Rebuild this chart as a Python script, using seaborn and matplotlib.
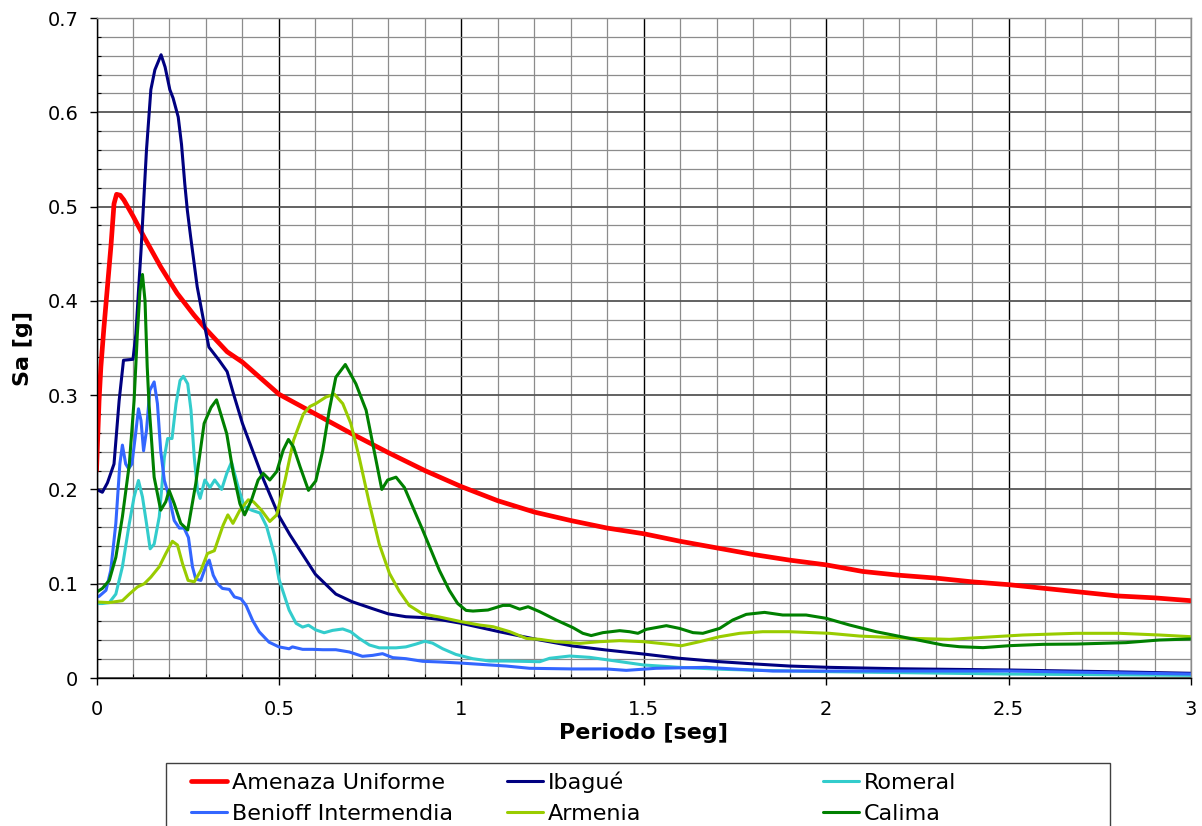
import matplotlib
matplotlib.use("Agg")
import matplotlib.pyplot as plt
import numpy as np
import pandas as pd
import seaborn as sns
from matplotlib.ticker import MultipleLocator, FuncFormatter
from matplotlib.patches import Rectangle
from matplotlib.lines import Line2D

# ---------------------------------------------------------------- data
# Periodo [seg] and spectral acceleration Sa [g] for each spectrum
periodo_amenaza = [0, 0.007, 0.012, 0.02, 0.03,
                   0.04, 0.048, 0.055, 0.065, 0.075,
                   0.1, 0.13, 0.176, 0.221, 0.267,
                   0.3, 0.358, 0.4, 0.5, 0.6,
                   0.7, 0.8, 0.9, 1.0, 1.1,
                   1.2, 1.3, 1.4, 1.5, 1.6,
                   1.7, 1.8, 1.9, 2.0, 2.1,
                   2.2, 2.3, 2.4, 2.5, 2.6,
                   2.7, 2.8, 2.9, 3.0]
sa_amenaza = [0.22, 0.294, 0.33, 0.37, 0.415,
              0.46, 0.503, 0.513, 0.512, 0.507,
              0.49, 0.468, 0.436, 0.408, 0.385,
              0.37, 0.346, 0.335, 0.301, 0.28,
              0.259, 0.239, 0.22, 0.203, 0.188,
              0.176, 0.167, 0.159, 0.153, 0.145,
              0.138, 0.131, 0.125, 0.12, 0.113,
              0.109, 0.106, 0.102, 0.099, 0.095,
              0.091, 0.087, 0.085, 0.082]

periodo_ibague = [0, 0.016, 0.03, 0.048, 0.062,
                  0.074, 0.1, 0.108, 0.115, 0.122,
                  0.128, 0.137, 0.149, 0.16, 0.177,
                  0.188, 0.201, 0.21, 0.224, 0.233,
                  0.242, 0.249, 0.258, 0.276, 0.295,
                  0.308, 0.336, 0.358, 0.375, 0.4,
                  0.428, 0.455, 0.5, 0.53, 0.56,
                  0.6, 0.656, 0.7, 0.757, 0.8,
                  0.848, 0.9, 0.941, 1.0, 1.105,
                  1.215, 1.306, 1.397, 1.5, 1.598,
                  1.708, 1.808, 1.899, 2.009, 2.2,
                  2.5, 2.8, 3.0]
sa_ibague = [0.2, 0.197, 0.207, 0.227, 0.294,
             0.337, 0.338, 0.365, 0.41, 0.453,
             0.496, 0.56, 0.624, 0.645, 0.661,
             0.648, 0.624, 0.615, 0.595, 0.566,
             0.524, 0.496, 0.468, 0.415, 0.376,
             0.351, 0.337, 0.325, 0.302, 0.27,
             0.241, 0.213, 0.172, 0.152, 0.134,
             0.11, 0.089, 0.081, 0.0735, 0.068,
             0.065, 0.064, 0.062, 0.058, 0.049,
             0.0403, 0.0339, 0.0297, 0.0254, 0.0209,
             0.0173, 0.0148, 0.0127, 0.0113, 0.0098,
             0.0085, 0.0065, 0.005]

periodo_romeral = [0, 0.016, 0.035, 0.053, 0.071,
                   0.09, 0.103, 0.115, 0.126, 0.137,
                   0.147, 0.158, 0.172, 0.186, 0.195,
                   0.207, 0.218, 0.229, 0.238, 0.25,
                   0.259, 0.268, 0.277, 0.284, 0.297,
                   0.311, 0.324, 0.343, 0.357, 0.37,
                   0.39, 0.405, 0.425, 0.448, 0.466,
                   0.489, 0.5, 0.528, 0.547, 0.565,
                   0.581, 0.601, 0.624, 0.647, 0.675,
                   0.697, 0.72, 0.748, 0.775, 0.821,
                   0.848, 0.876, 0.9, 0.921, 0.949,
                   0.985, 1.031, 1.077, 1.123, 1.215,
                   1.242, 1.297, 1.352, 1.416, 1.5,
                   1.598, 1.717, 1.854, 2.009, 2.5,
                   3.0]
sa_romeral = [0.079, 0.079, 0.08, 0.089, 0.118,
              0.164, 0.192, 0.2095, 0.192, 0.164,
              0.137, 0.142, 0.171, 0.234, 0.254,
              0.254, 0.291, 0.3155, 0.32, 0.312,
              0.284, 0.234, 0.199, 0.1905, 0.21,
              0.202, 0.21, 0.2, 0.217, 0.229,
              0.2, 0.182, 0.178, 0.175, 0.161,
              0.129, 0.105, 0.072, 0.058, 0.054,
              0.056, 0.051, 0.048, 0.0505, 0.052,
              0.049, 0.042, 0.035, 0.032, 0.032,
              0.033, 0.036, 0.039, 0.037, 0.031,
              0.025, 0.0205, 0.018, 0.018, 0.0173,
              0.0209, 0.0233, 0.0219, 0.0184, 0.0138,
              0.0113, 0.0092, 0.0078, 0.0067, 0.0042,
              0.0028]

periodo_benioff = [0, 0.007, 0.026, 0.039, 0.053,
                   0.064, 0.071, 0.08, 0.088, 0.097,
                   0.106, 0.115, 0.122, 0.129, 0.137,
                   0.146, 0.158, 0.167, 0.176, 0.186,
                   0.199, 0.213, 0.227, 0.24, 0.252,
                   0.263, 0.272, 0.286, 0.3, 0.309,
                   0.32, 0.332, 0.345, 0.364, 0.378,
                   0.396, 0.41, 0.428, 0.446, 0.473,
                   0.5, 0.528, 0.537, 0.565, 0.592,
                   0.62, 0.656, 0.693, 0.729, 0.757,
                   0.784, 0.812, 0.848, 0.894, 0.941,
                   1.0, 1.123, 1.187, 1.306, 1.397,
                   1.452, 1.534, 1.671, 1.763, 1.854,
                   2.009, 2.5, 3.0]
sa_benioff = [0.086, 0.0866, 0.093, 0.114, 0.164,
              0.227, 0.247, 0.227, 0.222, 0.227,
              0.255, 0.2855, 0.273, 0.241, 0.2625,
              0.305, 0.314, 0.291, 0.241, 0.2095,
              0.192, 0.167, 0.159, 0.159, 0.149,
              0.118, 0.105, 0.1035, 0.119, 0.125,
              0.109, 0.1, 0.095, 0.094, 0.086,
              0.084, 0.077, 0.061, 0.049, 0.038,
              0.033, 0.031, 0.033, 0.0304, 0.0304,
              0.03, 0.03, 0.0276, 0.023, 0.024,
              0.0258, 0.0216, 0.0205, 0.0177, 0.017,
              0.0158, 0.0127, 0.0103, 0.0096, 0.0096,
              0.0081, 0.0103, 0.0113, 0.0092, 0.0074,
              0.0074, 0.0074, 0.0042]

periodo_armenia = [0, 0.035, 0.071, 0.09, 0.112,
                   0.131, 0.149, 0.172, 0.19, 0.208,
                   0.222, 0.236, 0.251, 0.268, 0.286,
                   0.304, 0.323, 0.347, 0.36, 0.374,
                   0.393, 0.416, 0.43, 0.452, 0.475,
                   0.494, 0.517, 0.54, 0.567, 0.585,
                   0.601, 0.629, 0.652, 0.675, 0.697,
                   0.72, 0.748, 0.775, 0.803, 0.83,
                   0.857, 0.894, 0.94, 1.0, 1.05,
                   1.087, 1.133, 1.178, 1.215, 1.26,
                   1.324, 1.379, 1.434, 1.5, 1.562,
                   1.603, 1.653, 1.708, 1.763, 1.826,
                   1.899, 2.009, 2.091, 2.228, 2.338,
                   2.43, 2.539, 2.685, 2.804, 2.913,
                   3.0]
sa_armenia = [0.0806, 0.08, 0.082, 0.089, 0.0965,
              0.1, 0.107, 0.118, 0.132, 0.145,
              0.141, 0.121, 0.1035, 0.102, 0.114,
              0.132, 0.135, 0.162, 0.173, 0.164,
              0.178, 0.189, 0.187, 0.178, 0.166,
              0.173, 0.21, 0.252, 0.28, 0.288,
              0.291, 0.298, 0.301, 0.291, 0.27,
              0.234, 0.185, 0.142, 0.111, 0.092,
              0.077, 0.068, 0.0647, 0.0597, 0.0562,
              0.0544, 0.0491, 0.042, 0.041, 0.0385,
              0.0367, 0.0385, 0.0396, 0.0385, 0.036,
              0.0342, 0.0385, 0.0438, 0.0474, 0.0491,
              0.0491, 0.0474, 0.0445, 0.0421, 0.041,
              0.0431, 0.0456, 0.0474, 0.0474, 0.0456,
              0.0438]

periodo_calima = [0, 0.016, 0.035, 0.053, 0.071,
                  0.09, 0.103, 0.112, 0.119, 0.126,
                  0.133, 0.139, 0.144, 0.158, 0.176,
                  0.19, 0.199, 0.213, 0.231, 0.25,
                  0.272, 0.295, 0.314, 0.329, 0.357,
                  0.375, 0.393, 0.406, 0.425, 0.443,
                  0.457, 0.475, 0.494, 0.512, 0.526,
                  0.54, 0.558, 0.581, 0.601, 0.62,
                  0.638, 0.656, 0.682, 0.711, 0.739,
                  0.761, 0.782, 0.798, 0.821, 0.844,
                  0.894, 0.94, 0.967, 0.99, 1.013,
                  1.032, 1.073, 1.114, 1.133, 1.16,
                  1.183, 1.215, 1.26, 1.306, 1.333,
                  1.356, 1.388, 1.434, 1.461, 1.484,
                  1.507, 1.562, 1.598, 1.635, 1.662,
                  1.708, 1.744, 1.781, 1.831, 1.881,
                  1.945, 2.0, 2.064, 2.137, 2.228,
                  2.32, 2.365, 2.43, 2.503, 2.594,
                  2.685, 2.822, 2.913, 3.0]
sa_calima = [0.091, 0.095, 0.1035, 0.128, 0.171,
             0.227, 0.294, 0.365, 0.41, 0.428,
             0.40, 0.33, 0.29, 0.213, 0.178,
             0.187, 0.199, 0.185, 0.164, 0.157,
             0.206, 0.27, 0.287, 0.295, 0.259,
             0.217, 0.185, 0.173, 0.189, 0.21,
             0.217, 0.21, 0.219, 0.242, 0.253,
             0.245, 0.224, 0.199, 0.209, 0.241,
             0.284, 0.319, 0.3325, 0.312, 0.284,
             0.241, 0.2, 0.21, 0.213, 0.202,
             0.157, 0.114, 0.093, 0.079, 0.0717,
             0.071, 0.0721, 0.077, 0.077, 0.073,
             0.0756, 0.0703, 0.0615, 0.0534, 0.0474,
             0.045, 0.0481, 0.0502, 0.0491, 0.0474,
             0.0516, 0.0555, 0.0526, 0.0481, 0.0474,
             0.0526, 0.0615, 0.0675, 0.0696, 0.0668,
             0.0668, 0.0633, 0.0562, 0.0491, 0.0421,
             0.035, 0.0332, 0.0322, 0.0343, 0.0357,
             0.036, 0.0375, 0.0403, 0.0414]

nombres = ["Amenaza Uniforme", "Ibagué", "Romeral",
           "Benioff Intermendia", "Armenia", "Calima"]
periodos = [periodo_amenaza, periodo_ibague, periodo_romeral,
            periodo_benioff, periodo_armenia, periodo_calima]
aceleraciones = [sa_amenaza, sa_ibague, sa_romeral,
                 sa_benioff, sa_armenia, sa_calima]
colores = ["#FF0000", "#000080", "#33CCCC", "#3366FF", "#99CC00", "#008000"]
grosores = [3.4, 2.2, 2.2, 2.2, 2.2, 2.2]

x_ticks = [0, 0.5, 1, 1.5, 2, 2.5, 3]
y_ticks = [0, 0.1, 0.2, 0.3, 0.4, 0.5, 0.6, 0.7]

# ---------------------------------------------------------------- figure
sns.set_style("white")
plt.rcParams["font.family"] = ["DejaVu Sans"]
plt.rcParams["text.color"] = "black"
plt.rcParams["axes.labelcolor"] = "black"

W, H = 1202, 826
fig = plt.figure(figsize=(W / 100, H / 100), dpi=100)
ax = fig.add_axes([96.5 / W, 148 / H, (1191 - 96.5) / W, 660 / H])

for nombre, t, sa, c, lw in zip(nombres, periodos, aceleraciones, colores, grosores):
    df = pd.DataFrame({"Periodo": t, "Sa": sa})
    sns.lineplot(data=df, x="Periodo", y="Sa", color=c, linewidth=lw,
                 estimator=None, sort=False, legend=False, ax=ax,
                 solid_joinstyle="round", solid_capstyle="round")

ax.set_xlim(x_ticks[0], x_ticks[-1])
ax.set_ylim(y_ticks[0], y_ticks[-1])
ax.set_xticks(x_ticks)
ax.set_yticks(y_ticks)
ax.xaxis.set_minor_locator(MultipleLocator(0.1))
ax.yaxis.set_minor_locator(MultipleLocator(0.02))
fmt = FuncFormatter(lambda v, p: f"{v:g}")
ax.xaxis.set_major_formatter(fmt)
ax.yaxis.set_major_formatter(fmt)

# grid: fine gray minor lines, darker major lines
ax.set_axisbelow(True)
ax.grid(which="minor", color="#8c8c8c", linewidth=0.9)
ax.xaxis.grid(which="major", color="black", linewidth=1.0)
ax.yaxis.grid(which="major", color="#555555", linewidth=1.3)

for side in ("left", "bottom"):
    ax.spines[side].set_color("black")
    ax.spines[side].set_linewidth(1.0)
for side in ("top", "right"):
    ax.spines[side].set_color("#8c8c8c")
    ax.spines[side].set_linewidth(1.0)

ax.tick_params(which="both", left=True, bottom=True, top=False, right=False)
ax.tick_params(which="major", direction="out", length=5, width=1,
               color="black", labelsize=14, labelcolor="black")
ax.tick_params(which="minor", direction="in", length=3, width=0.8, color="black")
ax.tick_params(axis="x", which="major", pad=11)
ax.tick_params(axis="y", which="major", pad=8)

ax.set_xlabel("Periodo [seg]", fontsize=16, fontweight="bold", color="black")
ax.set_ylabel("Sa [g]", fontsize=16, fontweight="bold", color="black")
ax.xaxis.set_label_coords(0.5, -0.068)
ax.yaxis.set_label_coords(-0.058, 0.5)

# ---------------------------------------------------------------- legend
# one entry per box so that every row shares the same baseline
col_x = [191, 507, 823]
row_bottom = [793, 824]
orden = [[0, 1, 2], [3, 4, 5]]
for r, fila in enumerate(orden):
    for c, i in enumerate(fila):
        h = Line2D([], [], color=colores[i], linewidth=grosores[i],
                   solid_capstyle="round")
        fig.legend([h], [nombres[i]], loc="lower left",
                   bbox_to_anchor=(col_x[c] / W, 1 - row_bottom[r] / H),
                   frameon=False, fontsize=16, handlelength=1.6,
                   handletextpad=0.25, borderpad=0, borderaxespad=0)

fig.add_artist(Rectangle((166 / W, -0.05), (1110 - 166) / W, (826 - 762.5) / H + 0.05,
                         transform=fig.transFigure, fill=False,
                         edgecolor="#404040", linewidth=1.0, clip_on=False))

fig.savefig("out.png", dpi=100)
